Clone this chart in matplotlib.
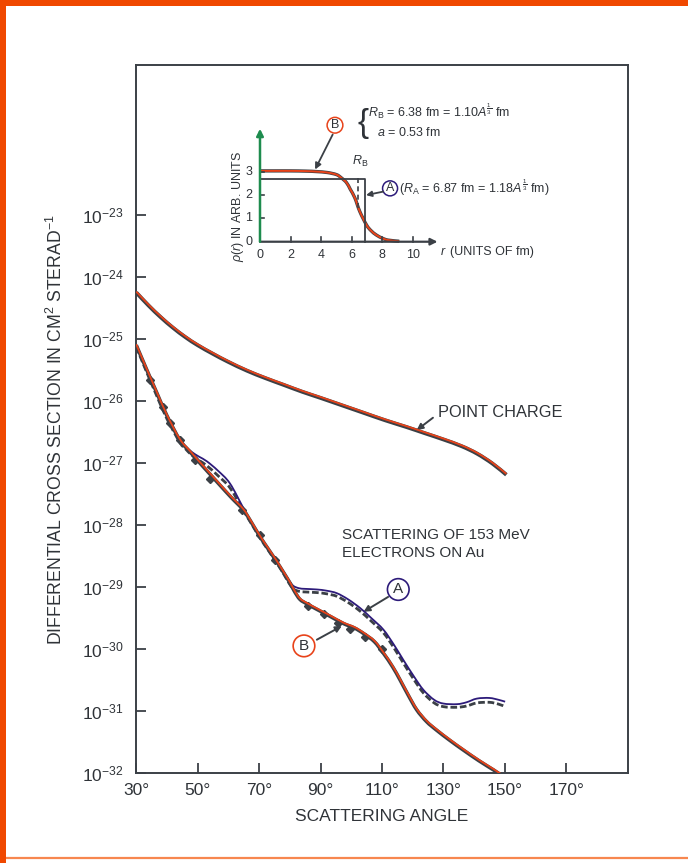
import numpy as np
import matplotlib
matplotlib.use("Agg")
import matplotlib.pyplot as plt
from matplotlib.transforms import offset_copy
from matplotlib.patches import Rectangle, PathPatch
from matplotlib.path import Path
from matplotlib.lines import Line2D

plt.rcParams['font.family'] = ['Liberation Sans', 'DejaVu Sans']
plt.rcParams['mathtext.fontset'] = 'custom'
plt.rcParams['mathtext.rm'] = 'Liberation Sans'
plt.rcParams['mathtext.it'] = 'Liberation Sans:italic'
plt.rcParams['mathtext.bf'] = 'Liberation Sans:bold'

# ---- cross sections (log10 of cm^2/sterad) vs scattering angle (deg) ----
theta_pc = [30, 34, 38, 42, 46, 50, 55, 60, 66, 72, 78, 84, 90, 97, 104, 111,
            118, 124, 130, 136, 141, 146, 150.5]
log_pc = [-24.25, -24.46, -24.65, -24.82, -24.97, -25.10, -25.24, -25.37, -25.51,
          -25.63, -25.74, -25.85, -25.95, -26.07, -26.19, -26.31, -26.42, -26.52,
          -26.62, -26.73, -26.85, -27.01, -27.19]

theta_B = [30, 33, 36.6, 40, 44.2, 47.5, 50.7, 54, 57.3, 61, 64.9, 67.5, 70.3, 73,
           75.7, 78, 80.1, 81.5, 83.3, 85.5, 88.8, 93, 97.5, 101, 104, 107.5, 110.5,
           113.5, 115.9, 118.5, 121.3, 124.5, 127.8, 132, 136.5, 141.5, 146.3, 149, 151]
log_B = [-25.10, -25.45, -25.86, -26.24, -26.63, -26.82, -27.00, -27.18, -27.36,
         -27.56, -27.76, -27.96, -28.19, -28.39, -28.59, -28.77, -28.94, -29.07,
         -29.20, -29.27, -29.36, -29.47, -29.59, -29.66, -29.75, -29.88, -30.07,
         -30.29, -30.50, -30.74, -30.98, -31.17, -31.31, -31.47, -31.63, -31.80,
         -31.95, -32.04, -32.10]

theta_A = [44.2, 46, 48, 50.5, 52.9, 56.5, 60.5, 64.9, 67.5, 70.3, 73, 75.7, 78,
           79.5, 81.1, 83, 85, 88.8, 92, 95.3, 99, 102.9, 106.5, 110.5, 114, 117,
           120.5, 123.5, 127, 130, 134.4, 137.5, 140.9, 145, 148, 150.1]
log_A = [-26.63, -26.73, -26.82, -26.90, -26.97, -27.12, -27.33, -27.73, -27.96,
         -28.19, -28.39, -28.59, -28.76, -28.88, -28.98, -29.02, -29.03, -29.04,
         -29.06, -29.10, -29.20, -29.34, -29.50, -29.69, -29.94, -30.18, -30.45,
         -30.66, -30.82, -30.88, -30.89, -30.86, -30.80, -30.79, -30.82, -30.85]

theta_D = [30, 33, 36.6, 40, 44.2, 46, 48, 50.5, 52.9, 56.5, 60.5, 64.9, 67.5, 70.3,
           73, 75.7, 78, 79.5, 81.1, 83, 85, 88.8, 92, 95.3, 99, 102.9, 106.5, 110.5,
           114, 117, 120.5, 123.5, 127, 130, 134.4, 137.5, 140.9, 145, 148, 150.1]
log_D = [-25.13, -25.49, -25.91, -26.29, -26.67, -26.77, -26.87, -26.96, -27.04,
         -27.20, -27.40, -27.77, -27.98, -28.21, -28.41, -28.61, -28.79, -28.92,
         -29.03, -29.07, -29.08, -29.09, -29.11, -29.15, -29.25, -29.39, -29.55,
         -29.74, -29.99, -30.23, -30.50, -30.71, -30.87, -30.93, -30.94, -30.92,
         -30.87, -30.86, -30.89, -30.93]

theta_pts = [34.5, 38.8, 41, 44.2, 49.1, 54, 64.3, 70.3, 75.2, 86, 91, 95.8, 99.6,
             104.5, 109.9]
log_pts = [-25.66, -26.09, -26.36, -26.63, -26.95, -27.25, -27.76, -28.16, -28.56,
           -29.30, -29.43, -29.58, -29.68, -29.80, -30.00]

x_ticks = [30, 50, 70, 90, 110, 130, 150, 170]
y_exps = list(range(-32, -22))

# ---- charge density models (inset) ----
r_B = [0, 1, 2, 3, 3.7, 4.4, 5.0, 5.3, 5.65, 5.9, 6.2, 6.52, 6.96, 7.25, 7.6, 8.0,
       8.37, 9.1]
rho_B = [3.04, 3.04, 3.04, 3.03, 3.01, 2.97, 2.88, 2.75, 2.54, 2.25, 1.88, 1.30,
         0.72, 0.48, 0.29, 0.15, 0.07, 0.02]
R_A = 6.87
R_B = 6.38
rho_A = 2.68

RED = '#e8431a'
DARK = '#3b4046'
BLUE = '#2d1b7a'
GREEN = '#1e8c4e'
TXT = '#2f3338'


def smooth_path(xs, ys, logy=False):
    """Catmull-Rom spline through the given points, as a cubic Bezier path."""
    P = np.column_stack([np.asarray(xs, float), np.asarray(ys, float)])
    n = len(P)
    verts = [P[0]]
    codes = [Path.MOVETO]
    for i in range(n - 1):
        p0 = P[i - 1] if i > 0 else P[i]
        p1, p2 = P[i], P[i + 1]
        p3 = P[i + 2] if i + 2 < n else P[i + 1]
        verts += [p1 + (p2 - p0) / 6.0, p2 - (p3 - p1) / 6.0, p2]
        codes += [Path.CURVE4] * 3
    V = np.array(verts)
    if logy:
        V[:, 1] = 10.0 ** V[:, 1]
    return Path(V, codes)


def curve(axis, xs, ys, logy=True, transform=None, **kw):
    patch = PathPatch(smooth_path(xs, ys, logy), fill=False,
                      transform=transform if transform is not None else axis.transData,
                      joinstyle='round', capstyle='butt', **kw)
    axis.add_patch(patch)
    return patch


fig = plt.figure(figsize=(6.88, 8.63), dpi=100)
fig.patch.set_facecolor('white')

ax = fig.add_axes([0.1981, 0.1043, 0.7142, 0.8204])
ax.set_yscale('log')
ax.set_xlim(30, 190)
ax.set_ylim(1e-32, 10 ** -20.58)

up = offset_copy(ax.transData, fig=fig, x=0, y=0.9, units='dots')

# point charge
curve(ax, theta_pc, log_pc, color=DARK, lw=2.8, zorder=3)
curve(ax, theta_pc, log_pc, transform=up, color=RED, lw=1.3, zorder=4)

# dashed curve and measured points
curve(ax, theta_D, log_D, color=DARK, lw=2.0, linestyle=(0, (2.4, 1.0)), zorder=3)
ax.plot(theta_pts, 10.0 ** np.asarray(log_pts), linestyle='none', marker='D',
        ms=4.2, color=DARK, mec=DARK, zorder=3)

# uniform model A
curve(ax, theta_A, log_A, color=BLUE, lw=1.3, zorder=4)

# Fermi model B
curve(ax, theta_B, log_B, color=DARK, lw=2.6, zorder=4)
curve(ax, theta_B, log_B, transform=up, color=RED, lw=1.3, zorder=5)

# axes styling
for s in ax.spines.values():
    s.set_color(DARK)
    s.set_linewidth(1.4)
ax.set_xticks(x_ticks)
ax.set_xticklabels([f'{t}\u00b0' for t in x_ticks])
ax.set_yticks([10.0 ** e for e in y_exps])
ax.set_yticklabels([f'10$^{{{e}}}$' for e in y_exps])
ax.yaxis.set_minor_locator(matplotlib.ticker.NullLocator())
ax.tick_params(axis='both', which='major', direction='in', length=7, width=1.3,
               color=DARK, labelcolor=TXT, labelsize=12.5)
ax.tick_params(axis='y', pad=9)
ax.tick_params(axis='x', pad=7)

ax.set_xlabel('SCATTERING ANGLE', fontsize=12.5, color=TXT, labelpad=8)
ax.set_ylabel('DIFFERENTIAL CROSS SECTION IN CM$^2$ STERAD$^{-1}$', fontsize=12.7,
              color=TXT)
ax.yaxis.set_label_coords(-0.143, 0.4845)

# annotations on the main plot
ax.text(128.3, 10 ** -26.19, 'POINT CHARGE', fontsize=11.8, color=TXT,
        ha='left', va='center')
ax.annotate('', xy=(121.3, 10 ** -26.47), xytext=(126.6, 10 ** -26.27),
            arrowprops=dict(arrowstyle='-|>', color=DARK, lw=1.4,
                            mutation_scale=9, shrinkA=0, shrinkB=0))

ax.text(97.0, 10 ** -28.16, 'SCATTERING OF 153 MeV', fontsize=11, color=TXT,
        ha='left', va='center')
ax.text(97.0, 10 ** -28.45, 'ELECTRONS ON Au', fontsize=11, color=TXT,
        ha='left', va='center')

ax.text(115.3, 10 ** -29.04, 'A', fontsize=11, color=TXT, ha='center', va='center',
        bbox=dict(boxstyle='circle,pad=0.25', fc='white', ec=BLUE, lw=1.2))
ax.annotate('', xy=(104, 10 ** -29.40), xytext=(112, 10 ** -29.16),
            arrowprops=dict(arrowstyle='-|>', color=DARK, lw=1.4,
                            mutation_scale=9, shrinkA=0, shrinkB=0))

ax.text(84.6, 10 ** -29.95, 'B', fontsize=11, color=TXT, ha='center', va='center',
        bbox=dict(boxstyle='circle,pad=0.25', fc='white', ec=RED, lw=1.2))
ax.annotate('', xy=(96.9, 10 ** -29.63), xytext=(88.8, 10 ** -29.85),
            arrowprops=dict(arrowstyle='-|>', color=DARK, lw=1.4,
                            mutation_scale=9, shrinkA=0, shrinkB=0))

# ---- inset: charge distributions ----
ai = fig.add_axes([0.3779, 0.7199, 0.2669, 0.1350])
ai.set_xlim(0, 12)
ai.set_ylim(0, 5)
ai.axis('off')

ai.annotate('', xy=(11.6, 0), xytext=(0, 0),
            arrowprops=dict(arrowstyle='-|>', color=DARK, lw=1.6,
                            mutation_scale=10, shrinkA=0, shrinkB=0),
            annotation_clip=False)
ai.annotate('', xy=(0, 4.85), xytext=(0, 0),
            arrowprops=dict(arrowstyle='-|>', color=GREEN, lw=1.8,
                            mutation_scale=10, shrinkA=0, shrinkB=0),
            annotation_clip=False)

for xt in [2, 4, 6, 8, 10]:
    ai.plot([xt, xt], [0, 0.22], color=DARK, lw=1.2, clip_on=False)
    ai.text(xt, -0.3, str(xt), fontsize=9, color=TXT, ha='center', va='top')
ai.text(0, -0.3, '0', fontsize=9, color=TXT, ha='center', va='top')
for yt in [1, 2, 3]:
    ai.plot([0, 0.28], [yt, yt], color=DARK, lw=1.2, clip_on=False)
for yt in [0, 1, 2, 3]:
    ai.text(-0.5, yt, str(yt), fontsize=9, color=TXT, ha='right', va='center')

# uniform sphere A
ai.plot([0, R_A, R_A], [rho_A, rho_A, 0], color=DARK, lw=1.3, clip_on=False)
# Fermi distribution B
p = curve(ai, r_B, rho_B, logy=False, color=DARK, lw=2.4)
p.set_clip_on(False)
p = curve(ai, r_B, rho_B, logy=False, color=RED, lw=1.4)
p.set_clip_on(False)
# half-density radius of B
ai.plot([R_B, R_B], [2.75, 1.3], color=DARK, lw=1.2, dashes=(3, 2), clip_on=False)
ai.text(R_B + 0.15, 3.1, r'$R_{\rm B}$', fontsize=9, color=TXT, ha='center',
        va='bottom')

ai.text(-1.45, 1.5, r'$\rho(r)$ IN ARB. UNITS', fontsize=9, color=TXT, rotation=90,
        ha='center', va='center')
ai.text(11.75, -0.43, r'$r$', fontsize=9, color=TXT, ha='left', va='center')
ai.text(12.4, -0.43, '(UNITS OF fm)', fontsize=9, color=TXT, ha='left', va='center')

ai.text(4.9, 5.0, 'B', fontsize=9, color=TXT, ha='center', va='center',
        bbox=dict(boxstyle='circle,pad=0.15', fc='white', ec=RED, lw=1.1))
ai.annotate('', xy=(3.6, 3.1), xytext=(4.75, 4.6),
            arrowprops=dict(arrowstyle='-|>', color=DARK, lw=1.3,
                            mutation_scale=9, shrinkA=0, shrinkB=0),
            annotation_clip=False)
ai.text(6.75, 5.08, '{', fontsize=24, color=TXT, ha='center', va='center',
        fontweight='light')
ai.text(7.08, 5.58, r'$R_{\rm B}$ = 6.38 fm = 1.10$A^{\frac{1}{3}}$ fm', fontsize=9,
        color=TXT, ha='left', va='center')
ai.text(7.62, 4.68, r'$a$ = 0.53 fm', fontsize=9, color=TXT, ha='left', va='center')

ai.text(8.5, 2.29, 'A', fontsize=9, color=TXT, ha='center', va='center',
        bbox=dict(boxstyle='circle,pad=0.12', fc='white', ec=BLUE, lw=1.1))
ai.annotate('', xy=(6.93, 2.0), xytext=(8.05, 2.15),
            arrowprops=dict(arrowstyle='-|>', color=DARK, lw=1.3,
                            mutation_scale=8, shrinkA=0, shrinkB=0),
            annotation_clip=False)
ai.text(9.08, 2.29, r'($R_{\rm A}$ = 6.87 fm = 1.18$A^{\frac{1}{3}}$ fm)', fontsize=9,
        color=TXT, ha='left', va='center')

# ---- page frame ----
W, H = 688, 863
fig.patches.append(Rectangle((0, 1 - 6 / H), 1, 6 / H, transform=fig.transFigure,
                             fc='#f04800', ec='none', zorder=10))
fig.patches.append(Rectangle((0, 0), 6 / W, 1, transform=fig.transFigure,
                             fc='#f04800', ec='none', zorder=10))
fig.lines.append(Line2D([0, 1], [1 - 857.5 / H, 1 - 857.5 / H], transform=fig.transFigure,
                        color='#f7874f', lw=1.6, zorder=10))

fig.savefig('out.png', dpi=100)
